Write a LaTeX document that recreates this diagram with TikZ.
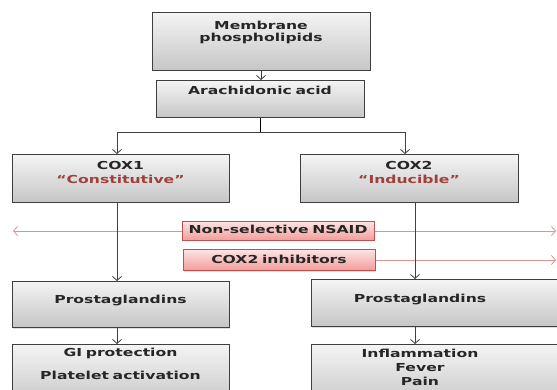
\documentclass[tikz,border=0pt]{standalone}
\usepackage{fontspec}
\setmainfont{DejaVu Sans}[FakeStretch=1.42]
\usetikzlibrary{arrows.meta,shadows}
\definecolor{boxline}{HTML}{3F3F3F}
\definecolor{boxtop}{HTML}{F4F4F4}
\definecolor{boxbot}{HTML}{C6C6C6}
\definecolor{drugline}{HTML}{C0504D}
\definecolor{drugtop}{HTML}{FDE4E3}
\definecolor{drugbot}{HTML}{F19C99}
\definecolor{drugarrow}{HTML}{D99694}
\definecolor{quote}{HTML}{A0403C}
\begin{document}
\begin{tikzpicture}[x=1pt, y=-1pt, font=\fontsize{11}{14}\selectfont\bfseries]
\tikzstyle{block} = [rectangle, draw=boxline, line width=1pt, top color=boxtop, bottom color=boxbot, align=center, inner xsep=0pt, inner ysep=0pt, anchor=north, text=black!85, drop shadow={shadow xshift=1pt, shadow yshift=-1pt, opacity=0.25}]
\tikzstyle{drug} = [block, draw=drugline, top color=drugtop, bottom color=drugbot]
\tikzstyle{cut} = [text width=260pt, execute at begin node={\leftskip=0pt plus 1fill\rightskip=42pt plus 1fill\parfillskip=0pt}]
\tikzstyle{arrow} = [line width=0.8pt, draw=boxline, ->, >={Straight Barb[length=4pt, width=9pt]}]
\tikzstyle{drugarrow} = [arrow, draw=drugarrow]
\path[use as bounding box, clip] (0,0) rectangle (557,390);
%
\node (1) [block, text width=218pt, text height=17pt, text depth=41pt] at (261,12) {Membrane\\[-2pt]phospholipids};
\node (2) [block, text width=208pt, text height=14pt, text depth=23pt] at (260,80) {Arachidonic acid};
\node (3) [block, text width=217pt, text height=15pt, text depth=33pt] at (120.5,154) {COX1\\\textcolor{quote}{“Constitutive”}};
\node (4) [block, text width=218pt, text height=15pt, text depth=33pt] at (409,154) {COX2\\\textcolor{quote}{“Inducible”}};
\node (5) [block, text width=217pt, text height=22pt, text depth=24pt] at (120.5,281) {Prostaglandins};
\node (6) [block, cut, text height=23pt, text depth=24pt] at (441,279) {Prostaglandins};
\node (7) [block, text width=217pt, text height=12pt, text depth=50pt] at (120.5,344) {GI protection\\[9pt]Platelet activation};
\node (8) [block, cut, text height=13pt, text depth=50pt] at (441,344) {Inflammation\\Fever\\Pain};
\node (9) [drug, text width=192pt, text height=12pt, text depth=7pt] at (278,221) {Non-selective NSAID};
\node (10) [drug, text width=192pt, text height=14pt, text depth=7pt] at (279,249) {COX2 inhibitors};
\coordinate (lefttip) at (13,0);
\coordinate (righttip) at (556,0);
%
\draw [drugarrow] (9.west) -- (9.west -| lefttip);
\draw [drugarrow] (9.east) -- (9.east -| righttip);
\draw [drugarrow] (10.east) -- (10.east -| righttip);
%
\draw [arrow] (1.south) -- (1.south |- 2.north);
\draw (2.south) -- ++(0,14) coordinate (fork);
\draw [arrow] (fork) -| ([xshift=-3.5pt]3.north);
\draw [arrow] (fork) -| ([xshift=-4pt]4.north);
\draw [arrow] ([xshift=-3.5pt]3.south) -- ([xshift=-3.5pt]3.south |- 5.north);
\draw [arrow] ([xshift=6pt]4.south) -- ([xshift=6pt]4.south |- 6.north);
\draw [arrow] ([xshift=-3.5pt]5.south) -- ([xshift=-3.5pt]5.south |- 7.north);
\draw [arrow] ([xshift=6pt]4.south |- 6.south) -- ([xshift=6pt]4.south |- 8.north);
\end{tikzpicture}
\end{document}
